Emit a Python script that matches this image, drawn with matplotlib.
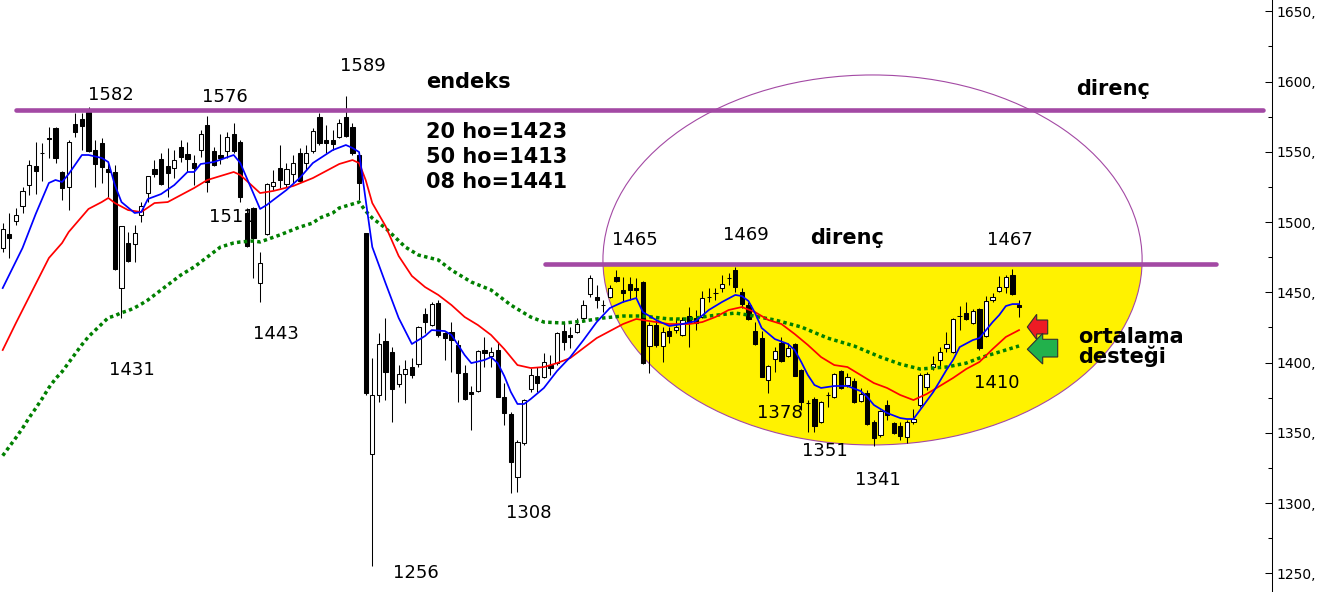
import matplotlib
matplotlib.use("Agg")
import matplotlib.pyplot as plt
from matplotlib.patches import Rectangle, Ellipse, Polygon
from matplotlib.transforms import Affine2D

# ---------------- data ----------------
opens = [1481.5, 1491.5, 1500.7, 1511.4, 1526.3, 1539.9, 1549.0, 1559.6, 1566.9, 1535.6,
         1524.9, 1569.7, 1573.3, 1578.3, 1551.2, 1556.2, 1537.7, 1535.6, 1453.0, 1485.1,
         1484.3, 1505.0, 1520.6, 1537.7, 1544.8, 1539.9, 1538.4, 1553.4, 1548.4, 1542.0,
         1551.2, 1569.0, 1550.5, 1547.7, 1550.5, 1562.6, 1556.9, 1506.4, 1510.0, 1456.6,
         1491.5, 1525.6, 1538.4, 1527.1, 1534.2, 1549.1, 1542.0, 1550.5, 1574.7, 1558.4,
         1558.4, 1560.5, 1574.7, 1567.6, 1547.7, 1492.2, 1334.9, 1376.9, 1415.3, 1407.5,
         1384.7, 1391.8, 1396.8, 1398.9, 1434.5, 1426.7, 1442.4, 1421.0, 1421.7, 1412.5,
         1392.5, 1379.0, 1379.7, 1408.9, 1404.6, 1408.9, 1375.5, 1363.4, 1318.5, 1342.7,
         1381.1, 1390.4, 1389.7, 1398.2, 1399.6, 1422.4, 1419.6, 1421.7, 1431.7, 1448.8,
         1446.6, 1441.0, 1446.6, 1460.9, 1451.6, 1455.9, 1453.0, 1457.3, 1411.8, 1426.7,
         1411.8, 1422.4, 1423.1, 1419.6, 1433.1, 1431.7, 1432.4, 1446.6, 1449.5, 1453.0,
         1460.1, 1465.8, 1450.2, 1440.9, 1422.4, 1417.4, 1387.6, 1402.5, 1413.9, 1404.6,
         1413.2, 1394.7, 1371.2, 1374.0, 1357.7, 1376.9, 1375.5, 1394.0, 1384.0, 1386.8,
         1372.6, 1378.3, 1357.7, 1348.4, 1369.8, 1357.0, 1354.8, 1347.0, 1357.7, 1369.8,
         1382.6, 1396.8, 1401.8, 1410.3, 1407.5, 1433.2, 1435.2, 1428.1, 1438.1, 1418.9,
         1444.5, 1450.9, 1453.7, 1462.3, 1440.9]
highs = [1499.3, 1506.4, 1510.0, 1524.9, 1544.1, 1556.9, 1556.2, 1567.4, 1567.6, 1536.0,
         1558.4, 1577.6, 1577.6, 1581.8, 1558.4, 1559.8, 1542.0, 1540.6, 1497.5, 1492.9,
         1497.9, 1514.2, 1533.0, 1544.1, 1549.1, 1552.7, 1551.2, 1558.4, 1556.9, 1547.7,
         1565.5, 1575.4, 1553.4, 1562.6, 1564.1, 1570.5, 1558.4, 1510.0, 1510.7, 1478.7,
         1527.8, 1537.0, 1554.8, 1542.0, 1547.7, 1552.7, 1554.8, 1566.9, 1577.6, 1569.0,
         1565.5, 1573.3, 1589.7, 1570.5, 1549.1, 1492.5, 1403.2, 1421.0, 1431.7, 1411.0,
         1398.2, 1401.8, 1403.2, 1426.0, 1438.8, 1443.1, 1444.5, 1421.7, 1428.8, 1416.0,
         1398.2, 1383.3, 1408.9, 1418.2, 1411.0, 1414.6, 1385.4, 1364.8, 1344.8, 1374.0,
         1396.1, 1396.8, 1406.8, 1405.4, 1421.7, 1428.1, 1425.3, 1431.7, 1444.5, 1462.3,
         1455.2, 1444.5, 1455.2, 1465.8, 1460.9, 1460.9, 1460.2, 1458.0, 1428.8, 1430.3,
         1425.3, 1425.3, 1431.7, 1432.4, 1439.5, 1437.4, 1450.9, 1453.0, 1453.0, 1462.3,
         1463.7, 1468.0, 1453.0, 1443.1, 1428.8, 1422.4, 1398.2, 1411.0, 1418.2, 1413.9,
         1413.9, 1395.4, 1373.3, 1375.5, 1372.6, 1379.0, 1392.5, 1394.7, 1392.5, 1389.0,
         1381.9, 1380.4, 1359.1, 1366.2, 1373.3, 1357.7, 1357.7, 1359.1, 1366.9, 1392.5,
         1393.2, 1404.6, 1411.0, 1421.7, 1431.7, 1440.2, 1443.1, 1438.1, 1438.8, 1447.3,
         1449.5, 1461.6, 1462.3, 1466.6, 1444.5]
lows = [1478.7, 1474.4, 1497.9, 1506.4, 1519.2, 1520.0, 1529.2, 1545.3, 1542.0, 1515.7,
        1508.5, 1560.5, 1551.2, 1550.0, 1524.9, 1527.8, 1517.8, 1466.0, 1431.7, 1471.5,
        1471.5, 1500.0, 1514.2, 1532.0, 1526.3, 1517.8, 1531.3, 1542.7, 1535.6, 1526.3,
        1546.3, 1521.4, 1539.9, 1541.3, 1545.6, 1549.1, 1514.2, 1482.2, 1460.2, 1443.1,
        1490.8, 1522.8, 1524.2, 1524.9, 1527.8, 1528.5, 1537.0, 1549.1, 1554.8, 1549.1,
        1551.2, 1559.8, 1560.5, 1547.7, 1515.7, 1376.9, 1255.2, 1371.9, 1373.3, 1357.7,
        1382.6, 1371.2, 1389.0, 1396.8, 1421.0, 1426.0, 1418.2, 1401.8, 1393.2, 1371.9,
        1373.3, 1352.0, 1379.0, 1396.8, 1396.8, 1375.5, 1355.5, 1307.1, 1307.8, 1341.3,
        1379.0, 1379.0, 1389.0, 1391.1, 1398.2, 1408.9, 1410.3, 1421.0, 1428.8, 1446.6,
        1438.8, 1435.9, 1445.9, 1457.3, 1443.1, 1444.5, 1445.9, 1398.9, 1392.5, 1411.0,
        1400.4, 1413.9, 1421.0, 1418.9, 1411.0, 1423.1, 1431.7, 1443.1, 1444.5, 1450.2,
        1455.2, 1450.2, 1438.8, 1430.3, 1412.5, 1389.7, 1378.3, 1393.2, 1400.4, 1403.9,
        1390.4, 1366.2, 1350.5, 1350.5, 1357.0, 1368.3, 1374.7, 1381.1, 1382.6, 1371.2,
        1371.9, 1355.5, 1340.6, 1347.0, 1359.1, 1349.1, 1344.8, 1342.7, 1356.2, 1368.3,
        1380.4, 1394.7, 1396.8, 1407.5, 1406.8, 1423.1, 1430.3, 1427.4, 1408.9, 1418.2,
        1443.1, 1450.2, 1449.5, 1448.0, 1432.4]
closes = [1495.0, 1488.6, 1505.0, 1522.1, 1540.6, 1536.3, 1548.8, 1559.4, 1545.6, 1524.2,
          1556.9, 1564.1, 1568.3, 1550.5, 1541.3, 1539.1, 1535.6, 1466.6, 1497.2, 1472.2,
          1492.2, 1511.4, 1532.7, 1534.2, 1527.1, 1534.9, 1544.1, 1546.3, 1544.8, 1538.4,
          1562.6, 1528.5, 1540.6, 1545.6, 1560.5, 1550.5, 1517.8, 1482.9, 1488.6, 1470.8,
          1527.1, 1528.5, 1529.9, 1537.7, 1542.0, 1529.2, 1549.1, 1564.8, 1556.2, 1556.2,
          1555.5, 1570.5, 1561.2, 1549.1, 1527.8, 1378.3, 1376.9, 1413.2, 1393.3, 1381.1,
          1391.8, 1395.4, 1391.1, 1425.3, 1428.8, 1441.6, 1419.6, 1417.4, 1416.0, 1392.5,
          1374.0, 1377.6, 1408.2, 1406.8, 1407.5, 1375.5, 1364.1, 1329.2, 1343.4, 1373.3,
          1391.1, 1385.4, 1400.4, 1396.1, 1421.0, 1414.6, 1418.2, 1427.4, 1440.9, 1460.1,
          1444.5, 1440.9, 1453.0, 1458.0, 1449.5, 1451.6, 1451.6, 1399.6, 1426.7, 1412.5,
          1421.7, 1418.9, 1425.3, 1430.3, 1428.8, 1428.1, 1445.9, 1446.4, 1449.8, 1455.9,
          1460.3, 1453.7, 1441.6, 1431.0, 1413.2, 1389.7, 1397.5, 1408.2, 1401.1, 1410.3,
          1390.4, 1371.9, 1371.3, 1354.8, 1371.9, 1377.1, 1391.8, 1381.9, 1389.7, 1371.9,
          1377.6, 1356.2, 1346.3, 1365.5, 1362.6, 1349.8, 1347.7, 1357.7, 1359.8, 1391.1,
          1391.8, 1398.9, 1407.5, 1413.2, 1431.0, 1433.1, 1431.0, 1436.7, 1410.3, 1443.8,
          1446.6, 1453.7, 1460.9, 1448.8, 1439.5]

# moving averages, read at candle indices
ma8_idx = [0, 3, 5, 7, 8, 9, 10, 12, 13, 15, 16, 17, 18, 20, 21, 22, 24, 26, 28, 29, 30, 32,
           35, 36, 39, 40, 41, 43, 45, 47, 50, 52, 53, 54, 55, 56, 57, 58, 60, 62, 64, 65,
           67, 68, 69, 70, 71, 73, 74, 75, 76, 77, 78, 79, 80, 82, 84, 86, 88, 90, 92, 94,
           96, 97, 99, 101, 103, 105, 107, 109, 111, 112, 113, 114, 115, 117, 119, 120, 121,
           122, 123, 124, 126, 128, 130, 131, 132, 134, 136, 137, 138, 139, 140, 141, 142,
           143, 144, 145, 147, 148, 149, 150, 151, 152, 153, 154]
ma8_val = [1453.0, 1481.5, 1505.7, 1527.8, 1529.9, 1528.5, 1534.2, 1547.7, 1547.7, 1545.6,
           1542.7, 1526.3, 1514.2, 1506.4, 1507.1, 1516.4, 1519.9, 1526.3, 1535.6, 1535.6,
           1541.3, 1542.7, 1547.7, 1542.0, 1509.3, 1512.1, 1515.7, 1522.8, 1531.3, 1542.0,
           1551.2, 1554.8, 1552.7, 1549.8, 1515.7, 1482.2, 1469.4, 1456.6, 1431.7, 1413.2,
           1418.9, 1423.1, 1422.4, 1419.6, 1412.5, 1405.3, 1399.6, 1401.8, 1403.9, 1399.6,
           1390.4, 1379.0, 1370.5, 1370.5, 1374.0, 1381.9, 1394.0, 1403.9, 1416.0, 1428.8,
           1438.8, 1443.1, 1445.9, 1435.9, 1430.3, 1426.0, 1427.4, 1429.5, 1437.4, 1443.1,
           1448.1, 1447.3, 1443.8, 1435.2, 1424.6, 1416.7, 1413.2, 1408.9, 1400.4, 1391.1,
           1384.0, 1381.9, 1383.3, 1383.3, 1379.7, 1375.5, 1369.8, 1364.1, 1360.5, 1359.8,
           1359.8, 1366.2, 1372.6, 1379.0, 1386.8, 1394.7, 1401.8, 1411.0, 1416.0, 1417.4,
           1423.1, 1428.8, 1433.8, 1440.2, 1441.6, 1441.6]

ma20_idx = [0, 2, 5, 7, 9, 10, 13, 15, 16, 17, 19, 21, 23, 25, 27, 29, 31, 35, 36, 39, 41,
            44, 47, 49, 51, 53, 54, 55, 56, 58, 60, 62, 64, 66, 68, 70, 72, 74, 76, 78, 80,
            82, 84, 86, 88, 90, 92, 94, 96, 98, 101, 104, 106, 108, 110, 112, 114, 116, 118,
            120, 122, 124, 126, 128, 130, 132, 134, 136, 138, 140, 142, 144, 146, 148, 150,
            152, 154]
ma20_val = [1408.9, 1428.1, 1455.9, 1474.4, 1485.1, 1492.9, 1509.3, 1514.2, 1517.1, 1513.5,
            1508.5, 1507.1, 1513.5, 1514.2, 1519.2, 1524.2, 1529.9, 1535.6, 1533.5, 1520.6,
            1522.1, 1525.6, 1531.3, 1536.3, 1541.3, 1544.1, 1542.0, 1529.9, 1513.5, 1497.2,
            1475.8, 1461.6, 1453.7, 1448.1, 1440.9, 1432.4, 1426.7, 1419.6, 1409.6, 1398.2,
            1396.1, 1396.8, 1399.6, 1403.2, 1410.3, 1417.4, 1422.4, 1427.4, 1431.0, 1429.5,
            1427.4, 1427.4, 1428.8, 1432.4, 1437.4, 1439.5, 1435.9, 1430.3, 1427.4, 1420.3,
            1412.5, 1403.9, 1398.2, 1396.8, 1391.1, 1385.4, 1381.9, 1376.9, 1373.3, 1377.6,
            1383.3, 1389.0, 1395.4, 1400.4, 1409.6, 1418.2, 1423.1]

ma50_idx = [0, 1, 2, 3, 4, 5, 6, 7, 8, 9, 10, 11, 12, 13, 14, 15, 16, 17, 18, 19, 20, 21, 22,
            25, 27, 29, 30, 33, 35, 36, 38, 39, 42, 45, 47, 48, 50, 51, 53, 54, 55, 56, 58,
            61, 63, 66, 68, 71, 74, 77, 80, 82, 85, 88, 91, 94, 97, 101, 104, 107, 111, 113,
            117, 121, 125, 129, 133, 136, 139, 143, 146, 148, 151, 154]
ma50_val = [1333.7, 1340.1, 1346.5, 1353.2, 1360.7, 1367.4, 1374.5, 1382.1, 1388.5, 1393.5,
            1399.9, 1406.3, 1412.7, 1418.4, 1422.9, 1427.4, 1431.9, 1433.3, 1435.5, 1436.9,
            1439.0, 1441.6, 1444.5, 1455.2, 1462.3, 1468.0, 1471.5, 1482.2, 1485.1, 1485.8,
            1486.5, 1485.8, 1490.8, 1496.4, 1499.3, 1502.8, 1506.4, 1510.0, 1512.8, 1514.2,
            1507.8, 1502.8, 1495.7, 1482.2, 1476.5, 1473.0, 1465.8, 1457.3, 1451.6, 1440.9,
            1432.4, 1428.8, 1428.1, 1429.5, 1431.7, 1433.1, 1433.1, 1431.0, 1431.0, 1433.1,
            1435.2, 1433.8, 1430.3, 1425.3, 1417.4, 1411.8, 1403.9, 1398.9, 1395.4, 1396.8,
            1399.6, 1403.2, 1407.5, 1411.8]

res_top = 1580
res_mid = 1470
yticks = [1250, 1300, 1350, 1400, 1450, 1500, 1550, 1600, 1650]
ytick_labels = [f"{v}," for v in yticks]
minor_ticks = [1275, 1325, 1375, 1425, 1475, 1525, 1575, 1625]

price_labels = [("1582", 111, 95), ("1576", 224.5, 97.5), ("1589", 363, 66),
                ("1443", 276, 334), ("1431", 132, 370), ("1256", 416, 573),
                ("1308", 528.5, 512.5), ("1465", 634.5, 240), ("1469", 746, 235),
                ("1378", 779.5, 413), ("1351", 825, 450.5), ("1341", 878, 480),
                ("1467", 1010, 240), ("1410", 997, 383)]
bold_labels = [("endeks", 426, 88), ("20 ho=1423", 426, 138), ("50 ho=1413", 426, 163),
               ("08 ho=1441", 426, 188), ("direnç", 810, 244), ("direnç", 1076, 95),
               ("ortalama", 1078, 343), ("desteği", 1078, 363)]

# ---------------- figure ----------------
W, H = 1322, 592
fig = plt.figure(figsize=(W / 100, H / 100), dpi=100)
fig.patch.set_facecolor("white")
ax = fig.add_axes([0, 0, 1272 / W, 1])
ax.set_facecolor("white")
ax.set_xlim(-0.41, 192.33)
ax.set_ylim(1236.7, 1658.0)

# pixel -> figure transform for annotation shapes / texts
px = Affine2D().scale(1 / W, -1 / H).translate(0, 1) + fig.transFigure

PURPLE = "#A349A4"

# ellipse (yellow lower part + outline)
ell_c = (131.8, 1473.0)
ell_w, ell_h = 81.7, 263.3
yellow = Ellipse(ell_c, ell_w, ell_h, facecolor="#FFF200", edgecolor="none", zorder=0.5)
ax.add_patch(yellow)
clip = Rectangle((-10, 1000), 300, res_mid - 1000, transform=ax.transData)
yellow.set_clip_path(clip)
ax.add_patch(Ellipse(ell_c, ell_w, ell_h, facecolor="none", edgecolor=PURPLE,
                     lw=0.8, zorder=1))

# label partially hidden behind candles
ax.text(231.5, 217, "1511", transform=px, ha="center", va="center", fontsize=13,
        color="black", zorder=1.5)

# candles
bw = 0.65
for i, (o, h, l, c) in enumerate(zip(opens, highs, lows, closes)):
    ax.vlines(i, l, h, color="black", lw=0.75, zorder=2)
    up = c >= o
    ax.add_patch(Rectangle((i - bw / 2, min(o, c)), bw, max(abs(c - o), 0.05),
                           facecolor="white" if up else "black", edgecolor="black",
                           lw=0.75, zorder=2.1))

# moving averages
ax.plot(ma50_idx, ma50_val, color="#008000", lw=2.5, linestyle=(0, (1, 0.95)),
        dash_capstyle="butt", zorder=3)
ax.plot(ma20_idx, ma20_val, color="#FF0000", lw=1.25, zorder=3.1)
ax.plot(ma8_idx, ma8_val, color="#0000FF", lw=1.25, zorder=3.2)

# resistance lines
ax.plot([2.0, 190.9], [res_top, res_top], color=PURPLE, lw=3.3,
        solid_capstyle="round", zorder=4)
ax.plot([82.2, 183.8], [res_mid, res_mid], color=PURPLE, lw=3.3,
        solid_capstyle="round", zorder=4)

# texts
for s, x, y in price_labels:
    ax.text(x, y, s, transform=px, ha="center", va="center", fontsize=13,
            color="black", zorder=5)
for s, x, y in bold_labels:
    ax.text(x, y, s, transform=px, ha="left", va="baseline", fontsize=15,
            fontweight="bold", color="black", zorder=5)

# arrows
red_arrow = [(1027.3, 327), (1036.7, 314.3), (1036.7, 320), (1047.7, 320),
             (1047.7, 334), (1036.7, 334), (1036.7, 339.5)]
green_arrow = [(1027.3, 349.3), (1042.7, 333.3), (1042.7, 339.3), (1057.7, 339.3),
               (1057.7, 357), (1042.7, 357), (1042.7, 364)]
ax.add_patch(Polygon(red_arrow, closed=True, transform=px, facecolor="#ED1C24",
                     edgecolor="#303030", lw=0.8, zorder=6, clip_on=False))
ax.add_patch(Polygon(green_arrow, closed=True, transform=px, facecolor="#22B14C",
                     edgecolor="#303030", lw=0.8, zorder=6.1, clip_on=False))

# axis styling
for side in ("top", "left", "bottom"):
    ax.spines[side].set_visible(False)
ax.spines["right"].set_linewidth(0.75)
ax.spines["right"].set_color("black")
ax.set_xticks([])
ax.yaxis.tick_right()
ax.set_yticks(yticks)
ax.set_yticklabels(ytick_labels)
ax.set_yticks(minor_ticks, minor=True)
ax.tick_params(axis="y", which="major", direction="in", length=5, width=0.75,
               pad=3, labelsize=10, right=True, left=False)
ax.tick_params(axis="y", which="minor", direction="in", length=2.7, width=0.75,
               right=True, left=False)

fig.savefig("out.png", dpi=100, facecolor="white")
